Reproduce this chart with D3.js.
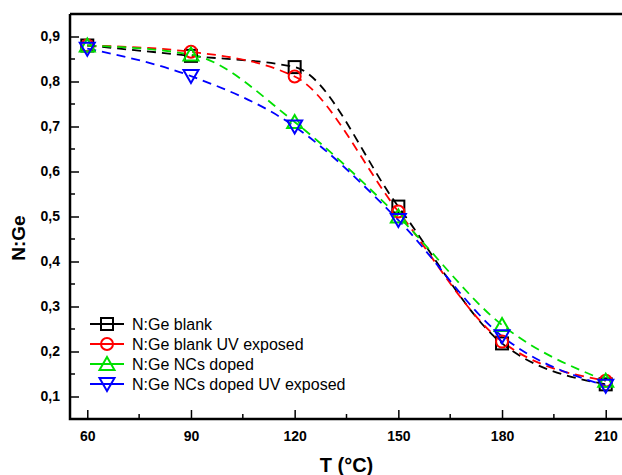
<!DOCTYPE html>
<html><head><meta charset="utf-8">
<script src="https://cdn.jsdelivr.net/npm/d3@7"></script>
<style>body{margin:0;background:#fff}svg{display:block}</style>
</head><body>
<svg id="c" width="622" height="475"></svg>
<script>
const temps = [60, 90, 120, 150, 180, 210];
const blank = [0.880, 0.857, 0.832, 0.522, 0.218, 0.127];
const blankUV = [0.880, 0.866, 0.811, 0.511, 0.222, 0.135];
const ncs = [0.880, 0.860, 0.710, 0.500, 0.259, 0.135];
const ncsUV = [0.873, 0.812, 0.700, 0.492, 0.234, 0.124];
const seriesNames = ["N:Ge blank", "N:Ge blank UV exposed", "N:Ge NCs doped", "N:Ge NCs doped UV exposed"];
const seriesColors = ["#000000", "#ff0000", "#00e000", "#0000ff"];
const xTicks = [60, 90, 120, 150, 180, 210];
const yTicks = [0.1, 0.2, 0.3, 0.4, 0.5, 0.6, 0.7, 0.8, 0.9];

const FONT = "Liberation Sans, Arial, sans-serif";
const svg = d3.select("#c");
const L = 70, T = 14, R = 623, B = 419;
const x = d3.scaleLinear().domain([55, 215]).range([L, R]);
const y = d3.scaleLinear().domain([0.05, 0.95]).range([B, T]);

// minor ticks
const xMinor = d3.range(75, 215, 30);
const yMinor = d3.range(0.05, 0.951, 0.1);
svg.append("g").selectAll("line").data(xMinor).join("line")
  .attr("x1", d => x(d)).attr("x2", d => x(d)).attr("y1", B).attr("y2", B - 5)
  .attr("stroke", "#000").attr("stroke-width", 1.5);
svg.append("g").selectAll("line").data(yMinor).join("line")
  .attr("y1", d => y(d)).attr("y2", d => y(d)).attr("x1", L).attr("x2", L + 5)
  .attr("stroke", "#000").attr("stroke-width", 1.5);

const xAxis = svg.append("g").attr("transform", `translate(0,${B})`)
  .call(d3.axisBottom(x).tickValues(xTicks).tickSizeInner(-9).tickSizeOuter(0).tickPadding(12));
const yAxis = svg.append("g").attr("transform", `translate(${L},0)`)
  .call(d3.axisLeft(y).tickValues(yTicks).tickSizeInner(-9).tickSizeOuter(0).tickPadding(10)
    .tickFormat(d => d3.format(".1f")(d).replace(".", ",")));
[xAxis, yAxis].forEach(g => {
  g.select(".domain").remove();
  g.selectAll(".tick line").attr("stroke-width", 1.5);
  g.selectAll("text").attr("font-family", FONT)
    .attr("font-size", 14).attr("font-weight", "bold").attr("fill", "#000");
});

// frame
svg.append("path").attr("d", `M${L},${T}H${R}M${L},${T}V${B}H${R}`)
  .attr("fill", "none").attr("stroke", "#000").attr("stroke-width", 2.5);

const data = [blank, blankUV, ncs, ncsUV];
const line = d3.line().x((d, i) => x(temps[i])).y(d => y(d)).curve(d3.curveMonotoneX);

const g = svg.append("g");
data.forEach((vals, si) => {
  g.append("path").attr("d", line(vals)).attr("fill", "none")
    .attr("stroke", seriesColors[si]).attr("stroke-width", 1.8).attr("stroke-dasharray", "9,6");
});

function marker(sel, si, cx, cy) {
  const c = seriesColors[si];
  const s = 6;
  let el;
  if (si === 0) el = sel.append("rect").attr("x", cx - s).attr("y", cy - s).attr("width", 2 * s).attr("height", 2 * s);
  else if (si === 1) el = sel.append("circle").attr("cx", cx).attr("cy", cy).attr("r", s);
  else if (si === 2) el = sel.append("path").attr("d", `M${cx},${cy - 7}L${cx + 7.5},${cy + 6}L${cx - 7.5},${cy + 6}Z`);
  else el = sel.append("path").attr("d", `M${cx},${cy + 7}L${cx + 7.5},${cy - 6}L${cx - 7.5},${cy - 6}Z`);
  el.attr("fill", "none").attr("stroke", c).attr("stroke-width", 2);
}
data.forEach((vals, si) => {
  vals.forEach((v, i) => marker(g, si, x(temps[i]), y(v)));
});

// legend
const lg = svg.append("g");
seriesNames.forEach((n, si) => {
  const ly = 324 + si * 20;
  lg.append("line").attr("x1", 90).attr("x2", 124).attr("y1", ly).attr("y2", ly)
    .attr("stroke", seriesColors[si]).attr("stroke-width", 1.8);
  marker(lg, si, 107, ly);
  lg.append("text").attr("x", 132).attr("y", ly + 6).text(n)
    .attr("font-family", FONT).attr("font-size", 16).attr("fill", "#000");
});

svg.append("text").attr("x", x(135)).attr("y", 472).attr("text-anchor", "middle")
  .attr("font-family", FONT).attr("font-size", 20).attr("font-weight", "bold").text("T (°C)");
svg.append("text").attr("transform", `translate(25,238) rotate(-90)`).attr("text-anchor", "middle")
  .attr("font-family", FONT).attr("font-size", 19).attr("font-weight", "bold").text("N:Ge");
</script>
</body></html>
